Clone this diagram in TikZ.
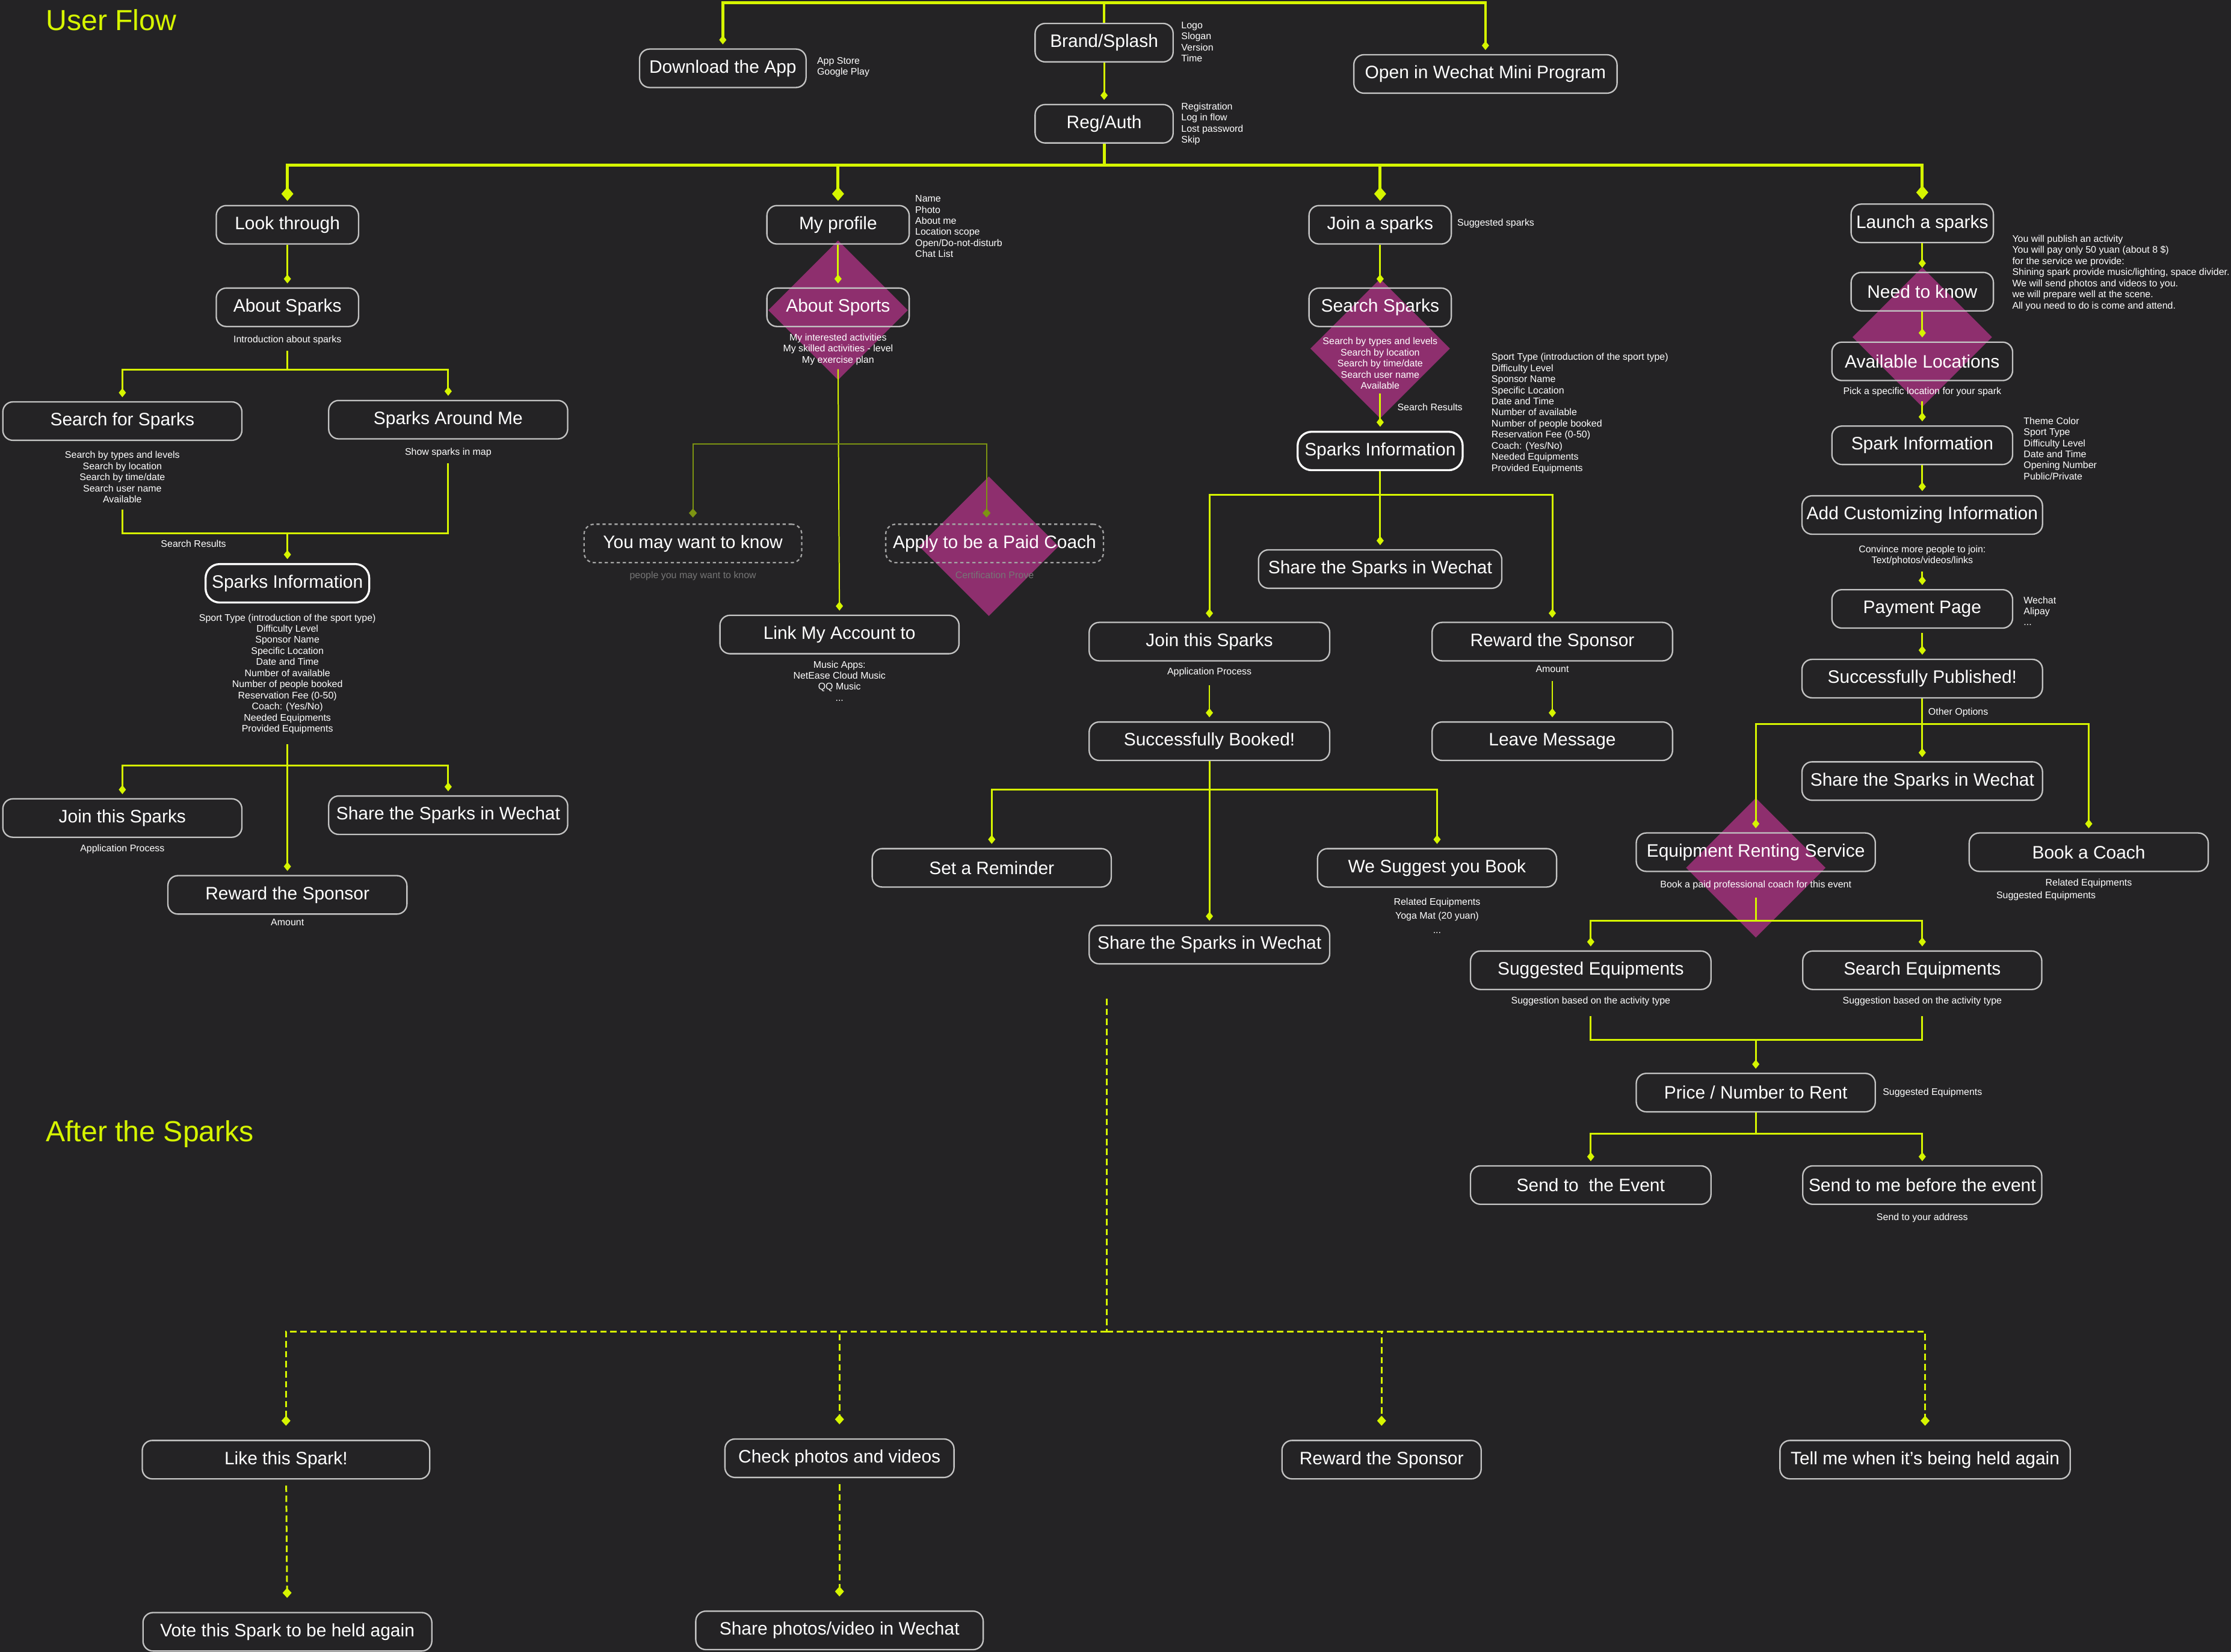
\documentclass[tikz,border=0pt]{standalone}
\usepackage{fontspec}
\setmainfont{Liberation Sans}
\usetikzlibrary{positioning,arrows.meta}
\definecolor{bgc}{RGB}{36,35,37}
\definecolor{lime}{RGB}{214,245,0}
\definecolor{olivel}{RGB}{125,148,18}
\definecolor{mag}{RGB}{142,47,110}
\definecolor{rim}{RGB}{195,195,195}
\definecolor{dim}{RGB}{118,118,118}
\begin{document}
\begin{tikzpicture}[x=0.025cm,y=-0.025cm,
 flow/.style={draw=rim,line width=0.7pt,rounded corners=5pt,minimum height=0.675cm,inner sep=0pt,text=white,font=\fontsize{9}{10}\selectfont},
 hi/.style={flow,draw=white,line width=1pt,rounded corners=7pt},
 ghost/.style={flow,draw=rim!80!bgc,dash pattern=on 1.6pt off 1.4pt},
 wd/.style={minimum width=#1*0.025cm},
 note/.style={text=white,inner sep=0pt,align=center,font=\fontsize{4.8}{5.55}\selectfont},
 side/.style={note,align=left,anchor=north west},
 link/.style={draw=lime,line width=0.9pt},
 tip/.style={link,shorten >=2pt,-{Diamond[length=4.5pt,width=3.6pt]}},
 bigtip/.style={link,line width=1.5pt,shorten >=2pt,-{Diamond[length=7pt,width=6pt]}},
 otip/.style={draw=olivel,line width=0.6pt,shorten >=3pt,-{Diamond[length=4.5pt,width=4pt]}},
 dtip/.style={link,line width=0.9pt,dash pattern=on 3.2pt off 1.8pt,shorten >=7pt,-{Diamond[length=5pt,width=4.5pt]}},
 title/.style={text=lime,anchor=west,inner sep=0pt,font=\fontsize{14.5}{16}\selectfont}]
\fill[bgc] (0,0) rectangle (1568,1161);
\useasboundingbox (0,0) rectangle (1568,1161);

% magenta decision marks
\foreach \cx/\cy in {589/218,695/384,970/245,1351/237,1234/610}
  \fill[mag] ({\cx},{\cy-49}) -- ({\cx+49},{\cy}) -- ({\cx},{\cy+49}) -- ({\cx-49},{\cy}) -- cycle;

\node[title] (uf) at (32,14) {User Flow};
\node[title] (ats) at (32,797) {After the Sparks};

% entry
\node[flow,wd=117] (dl) at (508,48) {Download the App};
\node[flow,wd=97] (brand) at (776,30) {Brand/Splash};
\node[flow,wd=97] (reg) at (776,87) {Reg/Auth};
\node[flow,wd=185] (wx) at (1044,52) {Open in Wechat Mini Program};
\node[side] (dln) at (574,40) {App Store\\Google Play};
\node[side] (brandn) at (830,15) {Logo\\Slogan\\Version\\Time};
\node[side] (regn) at (830,72) {Registration\\Log in flow\\Lost password\\Skip};

\coordinate (top) at (776,2);
\draw[link,line width=1.4pt] (brand.north) -- (top);
\draw[tip,line width=1.4pt] (top) -| (dl.north);
\draw[tip,line width=1.4pt] (top) -| (wx.north);
\draw[tip] (brand) -- (reg);
\draw[link,line width=1.5pt] (reg.south) -- (reg.south |- 0,116) coordinate (hub);

% look through
\node[flow,wd=100] (look) at (202,158) {Look through};
\node[flow,wd=100] (abs) at (202,216) {About Sparks};
\node[note,below=4pt of abs] (absn) {Introduction about sparks};
\node[flow,wd=168] (sfs) at (86,296) {Search for Sparks};
\node[flow,wd=168] (sam) at (315,295) {Sparks Around Me};
\node[note,below=5pt of sfs] (sfsn) {Search by types and levels\\Search by location\\Search by time/date\\Search user name\\Available};
\node[note,below=4pt of sam] (samn) {Show sparks in map};
\node[note] (sr1) at (136,382) {Search Results};
\node[hi,wd=115] (sinfoA) at (202,410) {Sparks Information};
\node[note,below=5pt of sinfoA] (sinfoAn) {Sport Type (introduction of the sport type)\\Difficulty Level\\Sponsor Name\\Specific Location\\Date and Time\\Number of available\\Number of people booked\\Reservation Fee (0-50)\\Coach: (Yes/No)\\Needed Equipments\\Provided Equipments};
\node[flow,wd=168] (joinA) at (86,575) {Join this Sparks};
\node[note,below=3pt of joinA] (joinAn) {Application Process};
\node[flow,wd=168] (shareA) at (315,573) {Share the Sparks in Wechat};
\node[flow,wd=168] (rewA) at (202,629) {Reward the Sponsor};
\node[note,below=2pt of rewA] (rewAn) {Amount};

\draw[bigtip] (hub) -| (look.north);
\draw[tip] (look) -- (abs);
\draw[link,shorten <=3pt] (absn.south) -- (absn.south |- 0,260) coordinate (j1);
\draw[tip] (j1) -| (sfs.north);
\draw[tip] (j1) -| (sam.north);
\draw[link,shorten <=3pt,shorten >=3pt] (sfsn.south) -- (sfsn.south |- 0,375) -- (samn.south |- 0,375) -- (samn.south);
\draw[tip] (sinfoA.north |- 0,375) -- (sinfoA.north);
\draw[link,shorten <=5pt] (sinfoAn.south) -- (sinfoAn.south |- 0,538) coordinate (j2);
\draw[tip] (j2) -| (joinA.north);
\draw[tip] (j2) -| (shareA.north);
\draw[tip] (j2) -- (rewA.north);

% my profile
\node[flow,wd=100] (prof) at (589,158) {My profile};
\node[side] (profn) at (643,137) {Name\\Photo\\About me\\Location scope\\Open/Do-not-disturb\\Chat List};
\node[flow,wd=100] (asp) at (589,216) {About Sports};
\node[note,below=3pt of asp] (aspn) {My interested activities\\My skilled activities - level\\My exercise plan};
\node[ghost,wd=153] (ymw) at (487,382) {You may want to know};
\node[note,text=dim,below=4pt of ymw] (ymwn) {people you may want to know};
\node[ghost,wd=153] (apc) at (699,382) {Apply to be a Paid Coach};
\node[note,text=dim,below=4pt of apc] (apcn) {Certification Prove};
\node[flow,wd=168] (link) at (590,446) {Link My Account to};
\node[note,below=3pt of link] (linkn) {Music Apps:\\NetEase Cloud Music\\QQ Music\\...};

\draw[bigtip] (hub) -| (prof.north);
\draw[tip] (prof) -- (asp);
\draw[tip,line width=0.6pt,shorten <=2pt] (aspn.south) -- (link.north);
\coordinate (j3) at (aspn.south |- 0,312);
\draw[otip] (j3) -| (ymw.north);
\draw[otip] (j3) -| ([xshift=-4]apc.north);

% join a sparks
\node[flow,wd=100] (joinS) at (970,158) {Join a sparks};
\node[note,anchor=west] (joinSn) at (1024,157) {Suggested sparks};
\node[flow,wd=100] (ss) at (970,216) {Search Sparks};
\node[note,below=5pt of ss] (ssn) {Search by types and levels\\Search by location\\Search by time/date\\Search user name\\Available};
\node[note] (sr2) at (1005,286) {Search Results};
\node[hi,wd=116] (sinfoB) at (970,317) {Sparks Information};
\node[side] (sinfoBn) at (1048,248) {Sport Type (introduction of the sport type)\\Difficulty Level\\Sponsor Name\\Specific Location\\Date and Time\\Number of available\\Number of people booked\\Reservation Fee (0-50)\\Coach: (Yes/No)\\Needed Equipments\\Provided Equipments};
\node[flow,wd=171] (shareB) at (970,400) {Share the Sparks in Wechat};
\node[flow,wd=169] (joinB) at (850,451) {Join this Sparks};
\node[note,below=3pt of joinB] (joinBn) {Application Process};
\node[flow,wd=169] (rewB) at (1091,451) {Reward the Sponsor};
\node[note,below=2pt of rewB] (rewBn) {Amount};
\node[flow,wd=169] (booked) at (850,521) {Successfully Booked!};
\node[flow,wd=169] (leave) at (1091,521) {Leave Message};
\node[flow,wd=168] (remind) at (697,610) {Set a Reminder};
\node[flow,wd=168] (sugg) at (1010,610) {We Suggest you Book};
\node[note,below=5pt of sugg,font=\fontsize{4.8}{7}\selectfont] (suggn) {Related Equipments\\Yoga Mat (20 yuan)\\...};
\node[flow,wd=169] (shareC) at (850,664) {Share the Sparks in Wechat};

\draw[bigtip] (hub) -| (joinS.north);
\draw[tip] (joinS) -- (ss);
\draw[tip,shorten <=2pt] (ssn.south) -- (sinfoB.north);
\draw[link] (sinfoB.south) -- (sinfoB.south |- 0,348) coordinate (j4);
\draw[tip] (j4) -| (joinB.north);
\draw[tip] (j4) -| (rewB.north);
\draw[tip] (j4) -- (shareB.north);
\draw[tip,line width=0.6pt,shorten <=4pt] (joinBn.south) -- (booked.north);
\draw[tip,line width=0.6pt,shorten <=4pt] (rewBn.south) -- (leave.north);
\draw[link] (booked.south) -- (booked.south |- 0,555) coordinate (j5);
\draw[tip] (j5) -| (remind.north);
\draw[tip] (j5) -| (sugg.north);
\draw[tip] (j5) -- (shareC.north);

% launch a sparks
\node[flow,wd=100] (launch) at (1351,157) {Launch a sparks};
\node[side] (launchn) at (1414,165) {You will publish an activity\\You will pay only 50 yuan (about 8 \$)\\for the service we provide:\\Shining spark provide music/lighting, space divider.\\We will send photos and videos to you.\\we will prepare well at the scene.\\All you need to do is come and attend.};
\node[flow,wd=100] (need) at (1351,205) {Need to know};
\node[flow,wd=127] (avail) at (1351,254) {Available Locations};
\node[note,below=3pt of avail] (availn) {Pick a specific location for your spark};
\node[flow,wd=127] (spinfo) at (1351,313) {Spark Information};
\node[side] (spinfon) at (1422,293) {Theme Color\\Sport Type\\Difficulty Level\\Date and Time\\Opening Number\\Public/Private};
\node[flow,wd=169] (addc) at (1351,362) {Add Customizing Information};
\node[note,below=5pt of addc] (addcn) {Convince more people to join:\\Text/photos/videos/links};
\node[flow,wd=127] (pay) at (1351,428) {Payment Page};
\node[side] (payn) at (1422,419) {Wechat\\Alipay\\...};
\node[flow,wd=169] (pub) at (1351,477) {Successfully Published!};
\node[note,anchor=west] (optn) at (1355,501) {Other Options};
\node[flow,wd=169] (shareD) at (1351,549) {Share the Sparks in Wechat};
\node[flow,wd=168] (ers) at (1234,599) {Equipment Renting Service};
\node[note,below=4pt of ers] (ersn) {Book a paid professional coach for this event};
\node[flow,wd=168] (coach) at (1468,599) {Book a Coach};
\node[note] (coachn) at (1468,621) {Related Equipments};
\node[note] (coachm) at (1438,630) {Suggested Equipments};
\node[flow,wd=169] (sugeq) at (1118,682) {Suggested Equipments};
\node[note,below=3pt of sugeq] (sugeqn) {Suggestion based on the activity type};
\node[flow,wd=168] (seaeq) at (1351,682) {Search Equipments};
\node[note,below=3pt of seaeq] (seaeqn) {Suggestion based on the activity type};
\node[flow,wd=168] (price) at (1234,768) {Price / Number to Rent};
\node[note,anchor=west] (pricen) at (1323,768) {Suggested Equipments};
\node[flow,wd=169] (sendev) at (1118,833) {Send to\ \ the Event};
\node[flow,wd=168] (sendme) at (1351,833) {Send to me before the event};
\node[note,below=4pt of sendme] (sendmen) {Send to your address};

\draw[bigtip] (hub) -| (launch.north);
\draw[tip] (launch) -- (need);
\draw[tip] (need) -- (avail);
\draw[tip,shorten <=2pt] (availn.south) -- (spinfo.north);
\draw[tip] (spinfo) -- (addc);
\draw[tip,shorten <=3pt] (addcn.south) -- (pay.north);
\draw[tip,shorten <=2pt] (pay) -- (pub);
\draw[link] (pub.south) -- (pub.south |- 0,509) coordinate (j6);
\draw[tip] (j6) -| (ers.north);
\draw[tip] (j6) -| (coach.north);
\draw[tip] (j6) -- (shareD.north);
\draw[link,shorten <=4pt] (ersn.south) -- (ersn.south |- 0,647) coordinate (j7);
\draw[tip] (j7) -| (sugeq.north);
\draw[tip] (j7) -| (seaeq.north);
\draw[link,shorten <=5pt,shorten >=5pt] (sugeqn.south) -- (sugeqn.south |- 0,731) -- (seaeqn.south |- 0,731) -- (seaeqn.south);
\draw[tip] (price.north |- 0,731) -- (price.north);
\draw[link] (price.south) -- (price.south |- 0,797) coordinate (j8);
\draw[tip] (j8) -| (sendev.north);
\draw[tip] (j8) -| (sendme.north);

% after the sparks
\node[flow,wd=202] (like) at (201,1026) {Like this Spark!};
\node[flow,wd=161] (check) at (590,1025) {Check photos and videos};
\node[flow,wd=140] (rewC) at (971,1026) {Reward the Sponsor};
\node[flow,wd=204] (tell) at (1353,1026) {Tell me when it's being held again};
\node[flow,wd=203] (vote) at (202,1147) {Vote this Spark to be held again};
\node[flow,wd=202] (sharep) at (590,1146) {Share photos/video in Wechat};

\coordinate (after) at (778,702);
\coordinate (j9) at (778,936);
\draw[link,line width=0.9pt,dash pattern=on 3.2pt off 1.8pt] (after) -- (j9);
\foreach \n in {like,check,rewC,tell}
  \draw[dtip] (j9) -| (\n.north);
\draw[dtip,shorten <=3pt] (like) -- (vote);
\draw[dtip,shorten <=3pt] (check) -- (sharep);
\end{tikzpicture}
\end{document}
